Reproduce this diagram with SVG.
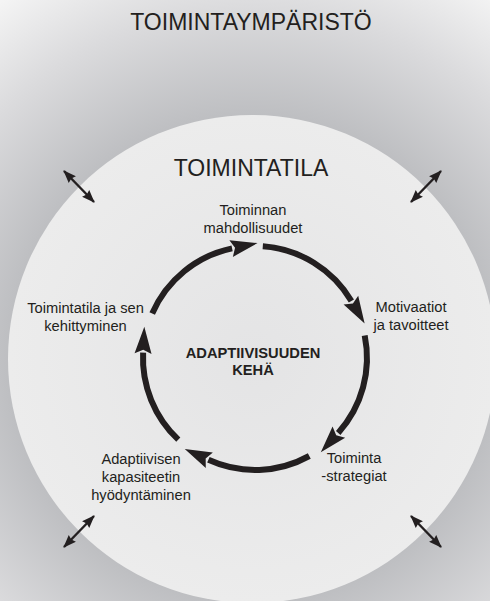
<svg xmlns="http://www.w3.org/2000/svg" width="490" height="601" viewBox="0 0 490 601">
  <style>
    text { font-family: "Liberation Sans", Arial, sans-serif; fill: #231f20; text-anchor: middle; }
    .title { font-size: 23px; }
    .lbl { font-size: 14.7px; }
    .center { font-size: 14.7px; font-weight: bold; }
    .cyc { fill: none; stroke: #231f20; stroke-width: 6; marker-end: url(#head); }
    .dbl { fill: none; stroke: #231f20; stroke-width: 2.4; marker-start: url(#small); marker-end: url(#small); }
  </style>
  <defs>
    <radialGradient id="bg" gradientUnits="userSpaceOnUse" cx="252" cy="359" r="440">
      <stop offset="0" stop-color="#b8b9bc"/>
      <stop offset="0.55" stop-color="#bdbec1"/>
      <stop offset="0.8" stop-color="#dbdbdd"/>
      <stop offset="1" stop-color="#f5f5f5"/>
    </radialGradient>
    <radialGradient id="inner" gradientUnits="userSpaceOnUse" cx="252" cy="359" r="244">
      <stop offset="0" stop-color="#e4e4e5"/>
      <stop offset="1" stop-color="#ececec"/>
    </radialGradient>
    <marker id="head" markerUnits="userSpaceOnUse" markerWidth="30" markerHeight="20" refX="1" refY="0" viewBox="0 -10 30 20" orient="auto" overflow="visible">
      <path d="M0,-8.5 L27,0 L0,8.5 L4,0 Z" fill="#231f20"/>
    </marker>
    <marker id="small" markerUnits="userSpaceOnUse" markerWidth="14" markerHeight="12" refX="12" refY="0" viewBox="0 -6 14 12" orient="auto-start-reverse" overflow="visible">
      <path d="M0,-5 L13,0 L0,5 L1.5,0 Z" fill="#231f20"/>
    </marker>
  </defs>

  <rect id="background" x="0" y="0" width="490" height="601" fill="url(#bg)"/>
  <circle id="toimintatila-circle" cx="252" cy="359" r="244" fill="url(#inner)"/>

  <g id="title-environment">
    <text class="title" x="251" y="29.5">TOIMINTAYMPÄRISTÖ</text>
  </g>
  <g id="title-space">
    <text class="title" x="251" y="176">TOIMINTATILA</text>
  </g>

  <g id="connectors">
    <path class="cyc" d="M152.2,313.5 A112,112 0 0 1 232.1,248.4"/>
    <path class="cyc" d="M262.8,246.3 A112,112 0 0 1 351.4,301.0"/>
    <path class="cyc" d="M364.7,335.5 A112,112 0 0 1 338.2,432.9"/>
    <path class="cyc" d="M309.3,456.0 A112,112 0 0 1 208.4,459.8"/>
    <path class="cyc" d="M178.3,439.6 A112,112 0 0 1 143.1,352.7"/>
    <path class="dbl" d="M64,171 L94,202"/>
    <path class="dbl" d="M411,202 L441,171"/>
    <path class="dbl" d="M64,547 L94,516"/>
    <path class="dbl" d="M411,516 L441,547"/>
  </g>

  <g id="node-mahdollisuudet">
    <text class="lbl" x="253" y="215">Toiminnan</text>
    <text class="lbl" x="253" y="233">mahdollisuudet</text>
  </g>
  <g id="node-motivaatiot">
    <text class="lbl" x="411" y="312">Motivaatiot</text>
    <text class="lbl" x="411" y="330">ja tavoitteet</text>
  </g>
  <g id="node-strategiat">
    <text class="lbl" x="354" y="463">Toiminta</text>
    <text class="lbl" x="354" y="481">-strategiat</text>
  </g>
  <g id="node-kapasiteetti">
    <text class="lbl" x="141" y="464">Adaptiivisen</text>
    <text class="lbl" x="141" y="482">kapasiteetin</text>
    <text class="lbl" x="141" y="500">hyödyntäminen</text>
  </g>
  <g id="node-toimintatila">
    <text class="lbl" x="85.5" y="313">Toimintatila ja sen</text>
    <text class="lbl" x="85.5" y="331">kehittyminen</text>
  </g>
  <g id="node-center">
    <text class="center" x="253" y="358">ADAPTIIVISUUDEN</text>
    <text class="center" x="253" y="375">KEHÄ</text>
  </g>
</svg>
